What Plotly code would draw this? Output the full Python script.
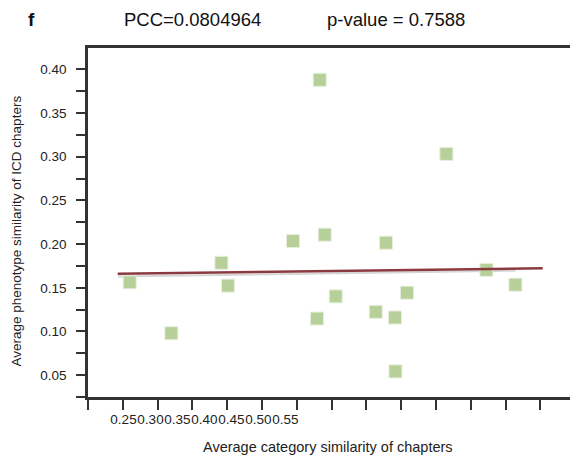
import plotly.graph_objects as go

# Data (x in units of the tick-mark axis)
x_vals = [0.2599, 0.3198, 0.3917, 0.4011, 0.4945, 0.5290, 0.5329, 0.5401, 0.5559,
          0.6134, 0.6282, 0.6411, 0.6417, 0.6583, 0.7149, 0.7724, 0.8141]
y_vals = [0.1563, 0.0980, 0.1786, 0.1525, 0.2035, 0.1148, 0.3881, 0.2108, 0.1402,
          0.1225, 0.2016, 0.1160, 0.0543, 0.1444, 0.3033, 0.1705, 0.1536]

fit_x = [0.2427, 0.8533]
fit_y = [0.1660, 0.1724]
shadow_x = [0.2427, 0.8145]
shadow_y = [0.1628, 0.1697]

x_tick_labels = ["0.25", "0.30", "0.35", "0.40", "0.45", "0.50", "0.55"]
x_tick_label_vals = [0.25, 0.30, 0.35, 0.40, 0.45, 0.50, 0.55]

pcc_text = "PCC=0.0804964"
p_text = "p-value = 0.7588"
panel = "f"
x_title = "Average category similarity of chapters"
y_title = "Average phenotype similarity of ICD chapters"

FONT = "Liberation Sans, Arial, sans-serif"
AX = "#333333"

fig = go.Figure()
fig.add_trace(go.Scatter(x=shadow_x, y=shadow_y, mode="lines",
                         line=dict(color="#d6d6d6", width=2), hoverinfo="skip"))
fig.add_trace(go.Scatter(x=x_vals, y=y_vals, mode="markers",
                         marker=dict(symbol="square", size=13, color="#b7cf98",
                                     line=dict(color="#e6efdc", width=1))))
fig.add_trace(go.Scatter(x=fit_x, y=fit_y, mode="lines",
                         line=dict(color="#8b3a40", width=2.5)))
# invisible trace to activate the label axis
fig.add_trace(go.Scatter(x=[x_tick_label_vals[0]], y=[0.2], xaxis="x2", mode="markers",
                         marker=dict(opacity=0), hoverinfo="skip"))

fig.update_layout(
    width=570, height=455,
    margin=dict(l=88, r=0, t=48, b=58, autoexpand=False),
    paper_bgcolor="white", plot_bgcolor="white",
    showlegend=False,
    font=dict(family=FONT, size=13, color="#222222"),
    xaxis=dict(range=[0.2, 0.8925], tick0=0.2, dtick=0.05, ticks="outside",
               ticklen=10, tickwidth=2, tickcolor=AX, showticklabels=False,
               showline=True, linecolor=AX, linewidth=2.5, mirror=True,
               showgrid=False, zeroline=False, automargin=False),
    xaxis2=dict(overlaying="x", anchor="y", side="bottom",
                range=[0.18426, 1.0769], tickmode="array",
                tickvals=x_tick_label_vals, ticktext=x_tick_labels, tickangle=0,
                ticks="outside", ticklen=10, tickcolor="rgba(0,0,0,0)",
                showline=False, showgrid=False, zeroline=False, automargin=False,
                tickfont=dict(size=13.5, color="#222222")),
    yaxis=dict(range=[0.025, 0.4245], tick0=0.05, dtick=0.05, tickformat=".2f",
               ticks="outside", ticklen=9, tickwidth=2, tickcolor=AX,
               minor=dict(dtick=0.025, tick0=0.025, ticks="outside", ticklen=9,
                          tickwidth=2, tickcolor=AX),
               ticklabelstandoff=7, automargin=False,
               showline=True, linecolor=AX, linewidth=2.5,
               showgrid=False, zeroline=False,
               tickfont=dict(size=13.5, color="#222222")),
    annotations=[
        dict(text="<b>" + panel + "</b>", xref="paper", yref="paper",
             x=(26 - 88) / 482, y=(397 - 20) / 349, xanchor="left", yanchor="middle",
             showarrow=False, font=dict(size=19, color="#111111")),
        dict(text=pcc_text, xref="paper", yref="paper",
             x=(122 - 88) / 482, y=(397 - 20) / 349, xanchor="left", yanchor="middle",
             showarrow=False, font=dict(size=18.5, color="#111111")),
        dict(text=p_text, xref="paper", yref="paper",
             x=(325 - 88) / 482, y=(397 - 20) / 349, xanchor="left", yanchor="middle",
             showarrow=False, font=dict(size=18.5, color="#111111")),
        dict(text=x_title, xref="paper", yref="paper",
             x=(328 - 88) / 482, y=(397 - 446.7) / 349, xanchor="center", yanchor="middle",
             showarrow=False, font=dict(size=14.5, color="#222222")),
        dict(text=y_title, xref="paper", yref="paper", textangle=-90,
             x=(16 - 88) / 482, y=(397 - 231.5) / 349, xanchor="center", yanchor="middle",
             showarrow=False, font=dict(size=13.5, color="#222222")),
    ],
)

fig.write_html("out.html", config={"displayModeBar": False},
               post_script="document.body.style.margin='0';")
